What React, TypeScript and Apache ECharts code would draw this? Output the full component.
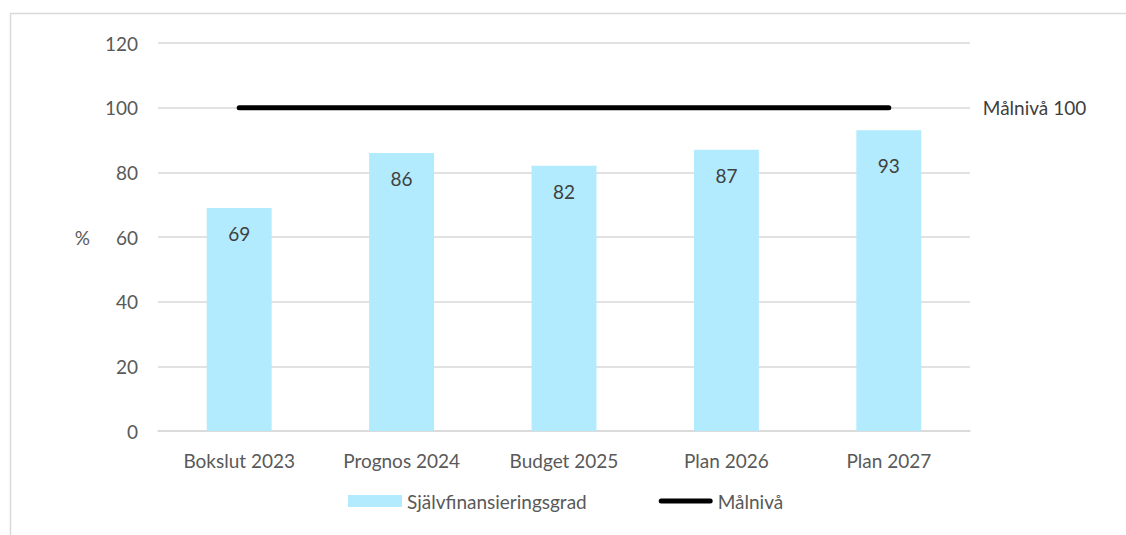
import React, { useEffect, useRef } from "react";
import * as echarts from "echarts";

const categories = ["Bokslut 2023", "Prognos 2024", "Budget 2025", "Plan 2026", "Plan 2027"];
const selfFinancing = [69, 86, 82, 87, 93];
const targetLevel = [100, 100, 100, 100, 100];
const yTicks = { min: 0, max: 120, interval: 20 };

const FONT = "Lato";
const FS = 19;

export default function App() {
  const ref = useRef<HTMLDivElement>(null);
  useEffect(() => {
    document.body.style.margin = "0";
    const chart = echarts.init(ref.current!, null, { renderer: "svg" });
    const barData = selfFinancing.map((v, i) =>
      i === selfFinancing.length - 1 ? { value: v, label: { distance: 26 } } : v
    );
    chart.setOption({
      animation: false,
      textStyle: { fontFamily: FONT },
      graphic: [
        {
          type: "rect",
          shape: { x: 10.5, y: 13.5, width: 1300, height: 700 },
          style: { fill: "none", stroke: "#d9d9d9", lineWidth: 1.5 },
          silent: true,
          z: -10,
        },
      ],
      grid: { left: 158, right: 156, top: 43, bottom: 104 },
      legend: {
        left: 343,
        top: 484,
        itemWidth: 54,
        itemHeight: 12,
        itemGap: 72,
        textStyle: { color: "#595959", fontSize: FS, fontFamily: FONT, lineHeight: 24 },
        data: [
          { name: "Självfinansieringsgrad", icon: "rect" },
          {
            name: "Målnivå",
            icon: "path://M2.5,0 L51.5,0 A2.5,2.5 0 0 1 51.5,5 L2.5,5 A2.5,2.5 0 0 1 2.5,0 Z",
            itemStyle: { color: "#000000" },
          },
        ],
      },
      xAxis: {
        type: "category",
        data: categories,
        axisLine: { lineStyle: { color: "#d9d9d9", width: 1.5 } },
        axisTick: { show: false },
        axisLabel: { color: "#595959", fontSize: FS, fontFamily: FONT, margin: 20 },
      },
      yAxis: {
        type: "value",
        min: yTicks.min,
        max: yTicks.max,
        interval: yTicks.interval,
        name: "%",
        nameLocation: "middle",
        nameRotate: 0,
        nameGap: 68,
        nameTextStyle: { color: "#595959", fontSize: FS, fontFamily: FONT },
        axisLine: { show: false },
        axisTick: { show: false },
        axisLabel: { color: "#595959", fontSize: FS, fontFamily: FONT, margin: 20 },
        splitLine: { lineStyle: { color: "#d9d9d9", width: 1.5 } },
      },
      series: [
        {
          name: "Självfinansieringsgrad",
          type: "bar",
          data: barData,
          barWidth: "40%",
          itemStyle: { color: "#b3ebfe" },
          label: {
            show: true,
            position: "insideTop",
            distance: 16,
            color: "#404040",
            fontSize: FS,
            fontFamily: FONT,
          },
        },
        {
          name: "Målnivå",
          type: "line",
          data: targetLevel,
          symbol: "none",
          lineStyle: { color: "#000000", width: 5, cap: "round" },
          itemStyle: { color: "#000000" },
          endLabel: {
            show: true,
            distance: 94,
            formatter: (p: any) => "Målnivå " + p.value,
            color: "#404040",
            fontSize: FS,
            fontFamily: FONT,
          },
          z: 5,
        },
      ],
    });
    return () => chart.dispose();
  }, []);
  return <div ref={ref} style={{ width: 1126, height: 535 }} />;
}
